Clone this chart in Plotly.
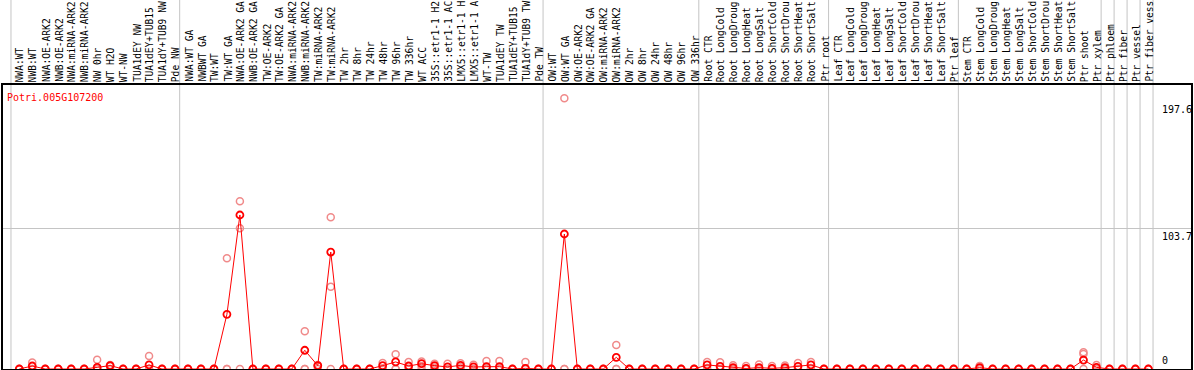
import plotly.graph_objects as go

gene = "Potri.005G107200"

samples = [
    "NWA:WT", "NWB:WT", "NWA:OE-ARK2", "NWB:OE-ARK2", "NWA:miRNA-ARK2", "NWB:miRNA-ARK2",
    "NW 0hr", "WT H2O", "WT-NW", "TUA1dEY NW", "TUA1dEY+TUB15", "TUA1dY+TUB9 NW", "Pde NW",
    "NWA:WT GA", "NWBWT GA", "TW:WT", "TW:WT GA", "NWA:OE-ARK2 GA", "NWB:OE-ARK2 GA",
    "TW:OE-ARK2", "TW:OE-ARK2 GA", "NWA:miRNA-ARK2", "NWB:miRNA-ARK2", "TW:miRNA-ARK2",
    "TW:miRNA-ARK2", "TW 2hr", "TW 8hr", "TW 24hr", "TW 48hr", "TW 96hr", "TW 336hr",
    "WT ACC", "35S::etr1-1 H2", "35S::etr1-1 AC", "LMX5::etr1-1 H", "LMX5::etr1-1 A",
    "WT-TW", "TUA1dEY TW", "TUA1dEY+TUB15", "TUA1dY+TUB9 TW", "Pde TW",
    "OW:WT", "OW:WT GA", "OW:OE-ARK2", "OW:OE-ARK2 GA", "OW:miRNA-ARK2", "OW:miRNA-ARK2",
    "OW 2hr", "OW 8hr", "OW 24hr", "OW 48hr", "OW 96hr", "OW 336hr",
    "Root CTR", "Root LongCold", "Root LongDroug", "Root LongHeat", "Root LongSalt",
    "Root ShortCold", "Root ShortDrou", "Root ShortHeat", "Root ShortSalt", "Ptr root",
    "Leaf CTR", "Leaf LongCold", "Leaf LongDroug", "Leaf LongHeat", "Leaf LongSalt",
    "Leaf ShortCold", "Leaf ShortDrou", "Leaf ShortHeat", "Leaf ShortSalt", "Ptr leaf",
    "Stem CTR", "Stem LongCold", "Stem LongDroug", "Stem LongHeat", "Stem LongSalt",
    "Stem ShortCold", "Stem ShortDrou", "Stem ShortHeat", "Stem ShortSalt", "Ptr shoot",
    "Ptr xylem", "Ptr phloem", "Ptr fiber", "Ptr vessel", "Ptr fiber vess",
]

mean_values = [
    0, 2.2, 0, 0, 0, 0, 1.2, 2.5, 0, 0, 3.0, 0, 0,
    0, 0, 0, 40.3, 113.5, 0, 0, 0, 0, 13.8, 2.5, 86.2, 0, 0, 0, 2.5, 5.2,
    2.2, 3.9, 2.5, 1.5, 2.7, 1.5, 1.7, 1.7, 0, 0.5, 0,
    0, 99.5, 0, 0, 0, 8.6, 0, 0, 0, 0, 0, 0,
    3.0, 2.0, 1.0, 0.4, 1.0, 0.5, 1.0, 2.0, 3.0, 0,
    0, 0, 0, 0, 0, 0, 0, 0, 0, 0,
    0, 1.0, 0, 0, 0, 0, 0, 0, 0, 6.6, 1.2, 0, 0, 0, 0,
]

rep_high = [
    0, 4.8, 0, 0, 0, 0, 6.8, 3.0, 0, 0, 9.5, 0, 0,
    0, 0, 0, 81.6, 123.6, 0, 0, 0, 0, 27.8, 3.0, 111.8, 0, 0, 0, 4.4, 10.8,
    5.2, 5.6, 3.9, 3.9, 4.2, 3.2, 5.9, 5.9, 0, 5.2, 0,
    0, 199.5, 0, 0, 0, 17.7, 0, 0, 0, 0, 0, 0,
    5.2, 4.9, 2.7, 2.2, 3.4, 2.2, 2.5, 4.4, 5.2, 0,
    0, 0, 0, 0, 0, 0, 0, 0, 0, 0,
    0, 2.2, 0, 0, 0, 0, 0, 0, 0, 12.3, 3.0, 0, 0, 0, 0,
]

rep_mid = [
    0, 0, 0, 0, 0, 0, 0, 2.0, 0, 0, 0, 0, 0,
    0, 0, 0, 0, 103.7, 0, 0, 0, 0, 0, 2.0, 60.7, 0, 0, 0, 0.6, 0,
    0, 2.2, 1.1, 0, 1.2, 0, 0, 0, 0, 0, 0,
    0, 0, 0, 0, 0, 0, 0, 0, 0, 0, 0, 0,
    0.8, 0, 0, 0, 0, 0, 0, 0, 0.8, 0,
    0, 0, 0, 0, 0, 0, 0, 0, 0, 0,
    0, 0, 0, 0, 0, 0, 0, 0, 0, 11.0, 0, 0, 0, 0, 0,
]

rep_low = [0] * len(samples)

group_starts = [0, 13, 41, 53, 63, 73, 84, 85, 86, 87, 88]
axis_ticks = [197.6, 103.7, 0]
axis_tick_labels = ["197.6", "103.7", "0"]

x = list(range(len(samples)))
FONT = "DejaVu Sans Mono"

fig = go.Figure()

rep_x, rep_y = [], []
for series in (rep_low, rep_mid, rep_high):
    rep_x += x
    rep_y += series
fig.add_trace(go.Scatter(
    x=rep_x, y=rep_y, mode="markers",
    marker=dict(symbol="circle-open", size=7, color="#F08A8A", line=dict(width=1.5)),
    showlegend=False, hoverinfo="skip",
))
fig.add_trace(go.Scatter(
    x=x, y=mean_values, mode="lines+markers",
    line=dict(color="#FF0000", width=1),
    marker=dict(symbol="circle-open", size=7, color="#FF0000", line=dict(width=1.8)),
    showlegend=False,
))

# vertical group separators spanning the label band too
for g in group_starts:
    fig.add_shape(type="line", xref="x", yref="paper", x0=g - 0.64, x1=g - 0.64,
                  y0=0, y1=1.32, line=dict(color="#C4C4C4", width=1), layer="below")

annotations = []
for i, name in enumerate(samples):
    annotations.append(dict(
        x=i + 0.05, y=1, xref="x", yref="paper", text=name, showarrow=False,
        textangle=-90, xanchor="center", yanchor="bottom", yshift=1,
        font=dict(family=FONT, size=9.6, color="black"),
    ))

annotations.append(dict(
    x=0, y=1, xref="paper", yref="paper", text=gene, showarrow=False,
    xanchor="left", yanchor="top", xshift=2, yshift=-5,
    font=dict(family=FONT, size=10, color="#FF0000"),
))

for v, lab in zip(axis_ticks, axis_tick_labels):
    annotations.append(dict(
        x=0.9735, y=v, xref="paper", yref="y", text=lab, showarrow=False,
        xanchor="left", yanchor="bottom" if v == 0 else "top",
        yshift=1 if v == 0 else -1,
        font=dict(family=FONT, size=10, color="black"),
    ))

fig.update_layout(
    width=1194, height=370,
    margin=dict(l=3, r=1, t=85, b=1),
    paper_bgcolor="white", plot_bgcolor="white",
    annotations=annotations,
    showlegend=False,
)
fig.update_xaxes(
    range=[-1.254, 90.285], showgrid=False, zeroline=False, showticklabels=False,
    ticks="", showline=True, linecolor="black", linewidth=1.5, mirror=True,
)
fig.update_yaxes(
    range=[0, 209.3], tickvals=[103.7], showgrid=True, gridcolor="#C4C4C4", gridwidth=1,
    zeroline=False, showticklabels=False, ticks="",
    showline=True, linecolor="black", linewidth=1.5, mirror=True,
)

fig.write_html(
    "out.html",
    config={"displayModeBar": False},
    post_script="document.body.style.margin='0';document.body.style.overflow='hidden';",
)
